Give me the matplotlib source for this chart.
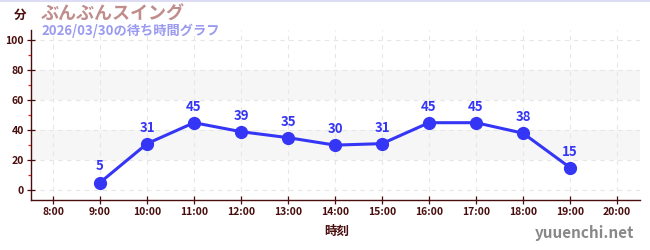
import matplotlib
matplotlib.use("Agg")
import matplotlib.pyplot as plt
from matplotlib.ticker import MultipleLocator

plt.rcParams['font.family'] = ['Noto Sans CJK JP', 'DejaVu Sans']

hours = [8, 9, 10, 11, 12, 13, 14, 15, 16, 17, 18, 19, 20]
hour_labels = [f"{h}:00" for h in hours]
wait_hours = [9, 10, 11, 12, 13, 14, 15, 16, 17, 18, 19]
wait_minutes = [5, 31, 45, 39, 35, 30, 31, 45, 45, 38, 15]

title = "ぶんぶんスイング"
subtitle = "2026/03/30の待ち時間グラフ"

dark = "#4a0d0d"
blue = "#3535f5"

fig = plt.figure(figsize=(6.5, 2.5), dpi=100)
ax = fig.add_axes([31 / 650, 50 / 250, 609 / 650, 170 / 250])

# light bands
for lo, hi in [(20, 40), (60, 80)]:
    ax.axhspan(lo, hi, color="#f6f6f6", zorder=0, lw=0)

ax.plot(wait_hours, wait_minutes, color=blue, lw=2.2, marker="o", ms=8.5, zorder=3)
for h, m in zip(wait_hours, wait_minutes):
    ax.annotate(str(m), (h, m), xytext=(0, 6.5), textcoords="offset points",
                ha="center", va="bottom", color=blue, fontsize=9.5, fontweight="bold")

ax.set_xlim(7.53, 20.49)
ax.set_ylim(-6.7, 107)
ax.set_xticks(hours)
ax.set_xticklabels(hour_labels)
ax.set_yticks([0, 20, 40, 60, 80, 100])
ax.yaxis.set_minor_locator(MultipleLocator(10))

ax.grid(True, which="major", color="#e6e6e6", ls=(0, (4, 4)), lw=0.8)
ax.set_axisbelow(True)

for s in ["top", "right"]:
    ax.spines[s].set_visible(False)
for s in ["left", "bottom"]:
    ax.spines[s].set_color(dark)
    ax.spines[s].set_linewidth(1.0)

ax.tick_params(axis="both", which="major", direction="inout", length=6, width=0.9,
               color=dark, labelcolor=dark, labelsize=7.5, pad=2)
ax.tick_params(axis="y", which="minor", direction="out", length=2.5, width=0.9, color="#dd2222")
for lbl in ax.get_xticklabels() + ax.get_yticklabels():
    lbl.set_fontweight("bold")

fig.text(20 / 650, 1 - 15 / 250, "分", color=dark, fontsize=9, fontweight="bold",
         ha="center", va="center")
fig.text(41 / 650, 1 - 14 / 250, title, color="#c08c8c", fontsize=13, fontweight="bold",
         ha="left", va="center")
fig.text(41 / 650, 1 - 31 / 250, subtitle, color="#9a9af0", fontsize=9.5, fontweight="bold",
         ha="left", va="center")
fig.text(337 / 650, 1 - 231 / 250, "時刻", color=dark, fontsize=9, fontweight="bold",
         ha="center", va="center")
fig.text(634 / 650, 1 - 233 / 250, "yuuenchi.net", color="#888888", fontsize=11,
         fontweight="bold", ha="right", va="center")

fig.add_artist(plt.Line2D([0, 1], [0.998, 0.998], color="#dcdcf5", lw=1.5, transform=fig.transFigure))

fig.savefig("out.png", dpi=100)
